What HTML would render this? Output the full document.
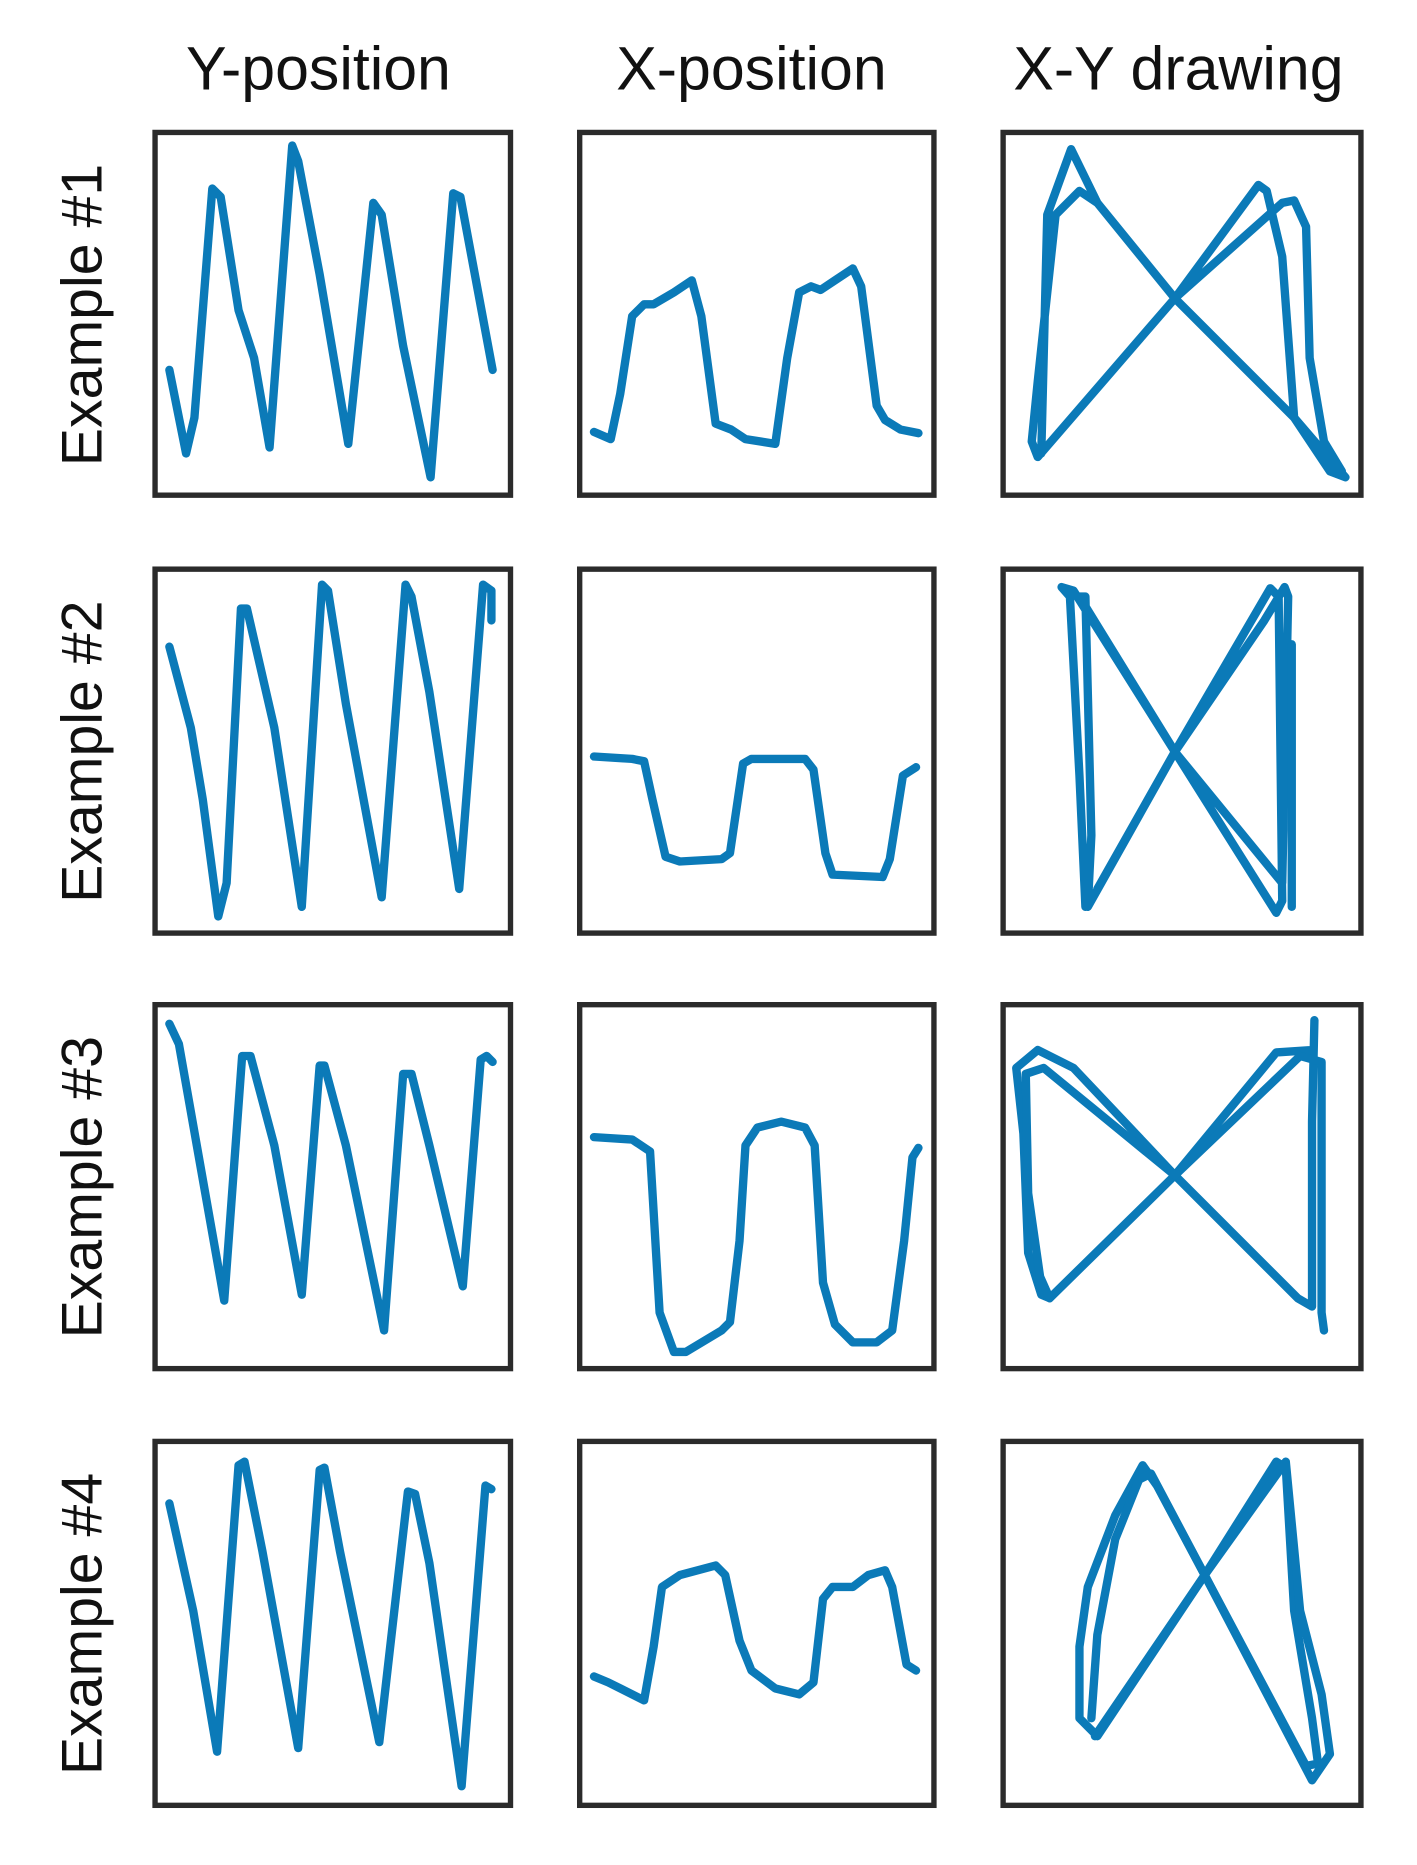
<!DOCTYPE html>
<html><head><style>html,body{margin:0;padding:0;background:#fff;}svg{display:block}</style></head>
<body>
<svg width="1417" height="1865" viewBox="0 0 1188 1563" preserveAspectRatio="none" xmlns="http://www.w3.org/2000/svg">
<g font-family="Liberation Sans, Arial, sans-serif" fill="#111" text-anchor="middle">
<g font-size="51">
<text x="267" y="75">Y-position</text>
<text x="630" y="75">X-position</text>
<text x="988" y="75">X-Y drawing</text>
</g>
<g font-size="48">
<text transform="translate(85,264) rotate(-90)">Example #1</text>
<text transform="translate(85,630) rotate(-90)">Example #2</text>
<text transform="translate(85,995) rotate(-90)">Example #3</text>
<text transform="translate(85,1361) rotate(-90)">Example #4</text>
</g>
</g>
<g fill="none" stroke="#2b2b2b" stroke-width="4.5">
<rect x="130" y="111" width="298" height="304"/><rect x="486" y="111" width="297" height="304"/><rect x="841" y="111" width="300" height="304"/>
<rect x="130" y="477" width="298" height="305"/><rect x="486" y="477" width="297" height="305"/><rect x="841" y="477" width="300" height="305"/>
<rect x="130" y="842" width="298" height="305"/><rect x="486" y="842" width="297" height="305"/><rect x="841" y="842" width="300" height="305"/>
<rect x="130" y="1208" width="298" height="305"/><rect x="486" y="1208" width="297" height="305"/><rect x="841" y="1208" width="300" height="305"/>
</g>
<g fill="none" stroke="#0b7ab8" stroke-width="7" stroke-linejoin="round" stroke-linecap="round">
<polyline points="142,310 156,380 163,350 178,158 185,165 200,260 213,300 226,375 245,122 250,135 268,230 292,372 313,170 320,180 338,290 361,400 380,162 386,165 413,310"/>
<polyline points="498,362 512,368 520,330 530,265 540,255 548,255 565,245 580,235 588,265 600,355 613,360 625,368 650,372 660,300 670,245 680,240 688,243 700,235 715,225 722,240 735,340 742,352 755,360 770,363"/>
<polyline points="873,380 878,180 898,125 920,170 985,250 1055,155 1062,160 1075,215 1085,350 1115,395 1128,400 1085,350 985,250 870,383 865,370 870,320 885,180 905,160 920,170 985,250 1075,170 1085,168 1095,190 1098,300 1110,370 1125,395"/>
<polyline points="142,542 160,610 170,670 183,768 190,740 202,510 207,510 230,610 253,760 270,490 275,495 290,590 320,752 340,490 345,500 360,580 385,745 405,490 412,495 412,520"/>
<polyline points="498,634 530,636 540,638 547,670 558,718 570,722 605,720 612,715 623,640 630,636 675,636 682,645 692,715 698,733 740,735 746,720 757,650 768,643"/>
<polyline points="910,760 905,650 897,500 890,492 900,495 985,630 1070,765 1075,755 1072,500 1065,493 985,630 912,760 915,700 910,500 905,500 985,630 1075,740 1080,500 1077,492 1060,520 985,630 920,745"/>
<polyline points="1083,540 1083,760"/>
<polyline points="142,858 150,875 165,960 188,1090 203,885 210,885 230,960 253,1085 268,893 272,893 290,960 322,1115 338,900 345,900 360,960 388,1078 403,888 408,885 413,890"/>
<polyline points="498,953 530,955 545,965 553,1100 565,1133 575,1133 605,1115 612,1108 620,1040 625,960 635,945 655,940 675,945 683,960 690,1075 700,1110 715,1125 735,1125 748,1115 758,1040 765,970 770,962"/>
<polyline points="1102,855 1100,940 1100,1095 1088,1088 985,985 900,895 870,880 852,895 858,950 862,1050 873,1085 880,1088 985,985 1070,882 1100,880"/>
<polyline points="880,1088 872,1070 862,1000 860,900 875,895 985,985 1090,885 1108,890 1108,1100 1110,1115"/>
<polyline points="142,1260 162,1350 182,1468 200,1228 205,1225 220,1300 250,1465 268,1232 272,1230 285,1300 318,1460 342,1250 348,1252 360,1310 387,1497 407,1245 412,1248"/>
<polyline points="498,1405 510,1410 520,1415 530,1420 540,1425 548,1380 555,1330 570,1320 600,1312 608,1320 620,1375 630,1400 650,1415 670,1420 682,1410 690,1340 698,1330 715,1330 728,1320 742,1316 748,1330 760,1395 768,1400"/>
<polyline points="905,1440 905,1380 912,1330 935,1270 958,1228 970,1245 1010,1320 1095,1480 1105,1478 1100,1440 1085,1350 1078,1230 1070,1225 1010,1320 920,1455 905,1440"/>
<polyline points="915,1440 920,1370 935,1290 955,1240 965,1235 1010,1320 1100,1492 1115,1470 1108,1420 1090,1350 1078,1225 1010,1320 918,1455"/>
</g>
</svg>
</body></html>
